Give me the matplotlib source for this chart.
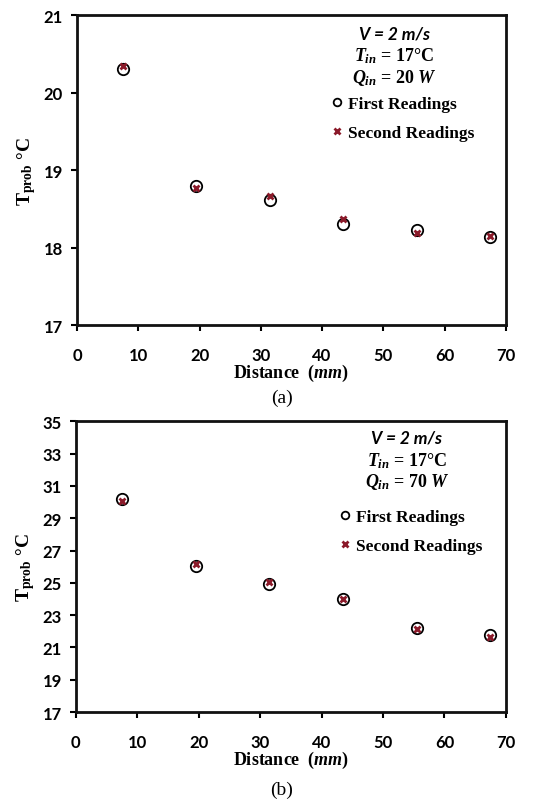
import matplotlib
matplotlib.use("Agg")
import matplotlib.pyplot as plt
from matplotlib.lines import Line2D

# Data
distance = [7.5, 19.5, 31.5, 43.5, 55.5, 67.5]
first_a = [20.31, 18.80, 18.61, 18.31, 18.23, 18.13]
second_a = [20.34, 18.77, 18.67, 18.37, 18.19, 18.15]
first_b = [30.20, 26.05, 24.96, 24.03, 22.18, 21.75]
second_b = [30.06, 26.15, 25.06, 24.03, 22.14, 21.63]

xticks = [0, 10, 20, 30, 40, 50, 60, 70]
yticks_a = [17, 18, 19, 20, 21]
yticks_b = [17, 19, 21, 23, 25, 27, 29, 31, 33, 35]
power = ["20", "70"]
panel = ["(a)", "(b)"]

RED = "#8b1a2a"
SERIF = "Liberation Serif"
TICKFONT = "Lato"

plt.rcParams["mathtext.fontset"] = "custom"
plt.rcParams["mathtext.rm"] = "Liberation Serif:bold"
plt.rcParams["mathtext.it"] = "Liberation Serif:italic:bold"
plt.rcParams["mathtext.bf"] = "Liberation Serif:bold"

fig = plt.figure(figsize=(5.54, 8.03), dpi=100)
ax_a = fig.add_axes([0.139, 0.594, 0.774, 0.386])
ax_b = fig.add_axes([0.137, 0.112, 0.776, 0.362])


def style_panel(ax, first, second, yticks, q, ann_x, ann_y, leg_anchor):
    ax.plot(distance, first, linestyle="none", marker="o", ms=8.2,
            mfc="none", mec="black", mew=1.3, label="First Readings")
    ax.plot(distance, second, linestyle="none", marker="x", ms=5,
            mec=RED, mew=2.0, label="Second Readings")

    ax.set_xlim(0, 70)
    ax.set_ylim(yticks[0], yticks[-1])
    ax.set_xticks(xticks)
    ax.set_yticks(yticks)
    for lbl in ax.get_xticklabels() + ax.get_yticklabels():
        lbl.set_fontfamily(TICKFONT)
        lbl.set_fontweight("bold")
        lbl.set_fontsize(12)
    ax.tick_params(direction="out", length=4, width=1.5)
    ax.tick_params(axis="x", pad=12)
    ax.tick_params(axis="y", pad=6)
    for sp in ax.spines.values():
        sp.set_linewidth(2.0)
        sp.set_color("#111111")

    ax.set_xlabel("Distance  ($\\mathit{mm}$)", family=SERIF, fontweight="bold",
                  fontsize=13, labelpad=-1)
    ax.set_ylabel("$\\mathbf{T_{prob}}$ °C", family=SERIF, fontweight="bold",
                  fontsize=14, labelpad=4)

    ax.text(ann_x, ann_y[0], "V = 2 m/s", transform=ax.transAxes, ha="center",
            va="center", family=TICKFONT, fontweight="bold", style="italic",
            fontsize=12.5)
    ax.text(ann_x, ann_y[1], "$T_{in}$ = 17°C", transform=ax.transAxes,
            ha="center", va="center", family=SERIF, fontweight="bold",
            fontsize=13)
    ax.text(ann_x, ann_y[2], "$Q_{in}$ = " + q + " $W$", transform=ax.transAxes,
            ha="center", va="center", family=SERIF, fontweight="bold",
            fontsize=13)

    handles = [
        Line2D([], [], linestyle="none", marker="o", ms=5.5, mfc="none",
               mec="black", mew=1.3),
        Line2D([], [], linestyle="none", marker="x", ms=4.5, mec=RED, mew=2.0),
    ]
    ax.legend(handles, ["First Readings", "Second Readings"], loc="upper left",
              bbox_to_anchor=leg_anchor, frameon=False, handlelength=0.6,
              handletextpad=0.3, labelspacing=0.75, borderpad=0,
              borderaxespad=0, prop={"family": SERIF, "weight": "bold",
                                     "size": 12.5})


style_panel(ax_a, first_a, second_a, yticks_a, power[0], 0.74,
            [0.94, 0.872, 0.80], (0.595, 0.74))
style_panel(ax_b, first_b, second_b, yticks_b, power[1], 0.77,
            [0.945, 0.866, 0.794], (0.615, 0.70))

fig.text(0.509, 0.504, panel[0], ha="center", va="center", family=SERIF,
         fontsize=14)
fig.text(0.509, 0.016, panel[1], ha="center", va="center", family=SERIF,
         fontsize=14)

fig.savefig("out.png", dpi=100)
